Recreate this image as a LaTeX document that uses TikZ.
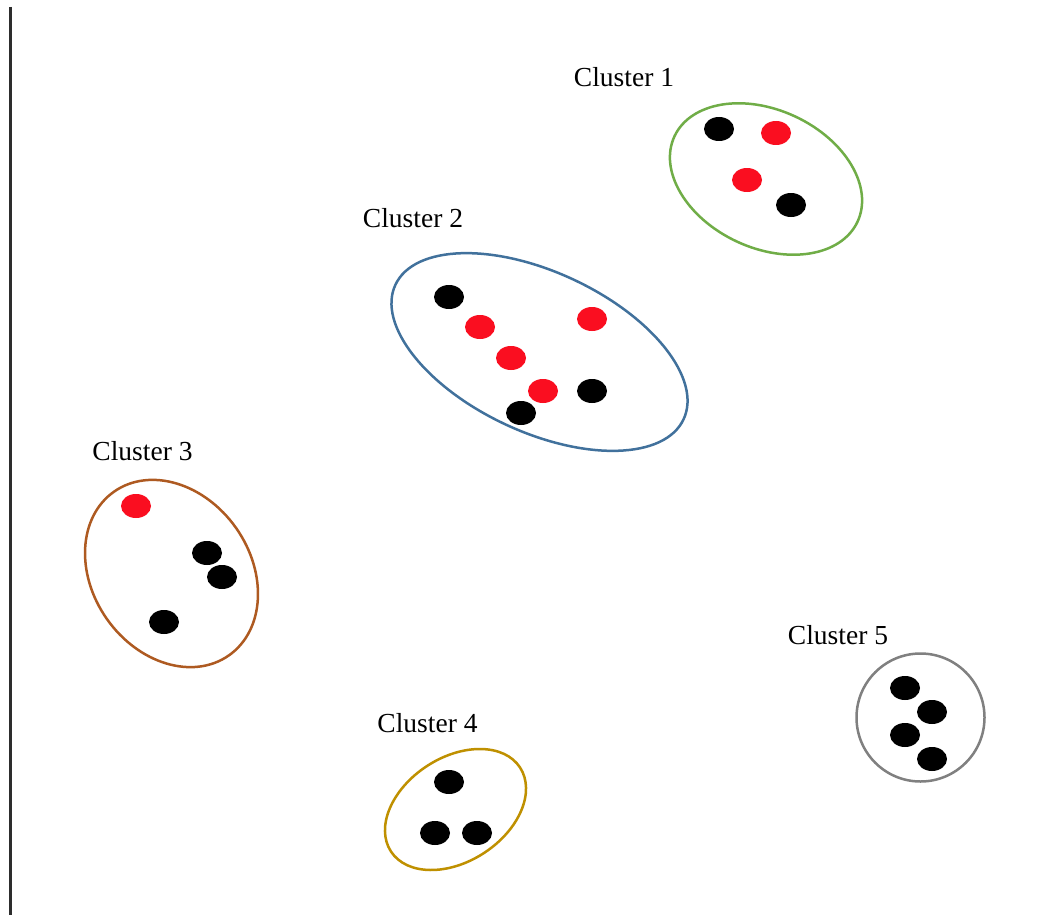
\documentclass[tikz,border=0pt]{standalone}
\usepackage{fontspec}
\setmainfont{Liberation Serif}
\usetikzlibrary{shapes.geometric}
\definecolor{dotred}{RGB}{250,14,32}
\definecolor{cgreen}{RGB}{112,173,71}
\definecolor{cblue}{RGB}{65,113,156}
\definecolor{cbrown}{RGB}{174,90,33}
\definecolor{cgold}{RGB}{191,144,0}
\definecolor{cgray}{RGB}{128,128,128}
\definecolor{bar}{RGB}{45,45,45}
\tikzset{
  pt/.style={ellipse, inner sep=0pt, minimum width=30pt, minimum height=24pt},
  blk/.style={pt, fill=black},
  rdp/.style={pt, fill=dotred},
  hull/.style={line width=2.5pt},
  lbl/.style={anchor=base, font=\fontsize{27.5}{30}\selectfont},
}
\begin{document}
\begin{tikzpicture}[x=1pt,y=-1pt]
\useasboundingbox (0,0) rectangle (1049,915);
\fill[white] (0,0) rectangle (1049,915);
% left axis bar
\coordinate (bartop) at (10.5,7);
\coordinate (barbot) at (10.5,915);
\draw[bar, line width=3pt] (bartop) -- (barbot);

% cluster outlines (y axis points down, so the angles are mirrored)
\draw[hull, cgreen, rotate around={-25:(766,179)}] (766,179) ellipse (101 and 69);
\draw[hull, cblue, rotate around={-25:(539.5,352)}] (539.5,352) ellipse (159 and 80);
\draw[hull, cbrown, rotate around={-55:(171.5,573.5)}] (171.5,573.5) ellipse (100 and 79);
\draw[hull, cgold, rotate around={33:(455.5,809.5)}] (455.5,809.5) ellipse (77 and 52);
\draw[hull, cgray] (920.5,717.5) circle (64);

% labels
\node[lbl] (l1) at (624,87) {Cluster 1};
\node[lbl] (l2) at (413,227) {Cluster 2};
\node[lbl] (l3) at (142.5,460) {Cluster 3};
\node[lbl] (l4) at (427.5,732) {Cluster 4};
\node[lbl] (l5) at (838,644) {Cluster 5};

% cluster 1 points
\node[blk] (a1) at (719,129) {};
\node[rdp] (a2) at (776,133) {};
\node[rdp] (a3) at (747,180) {};
\node[blk] (a4) at (791,205) {};

% cluster 2 points
\node[blk] (b1) at (449,297) {};
\node[rdp] (b2) at (480,327) {};
\node[rdp] (b3) at (511,358) {};
\node[rdp] (b4) at (543,391) {};
\node[blk] (b5) at (521,413) {};
\node[rdp] (b6) at (592,319) {};
\node[blk] (b7) at (592,391) {};

% cluster 3 points
\node[rdp] (c1) at (136,506) {};
\node[blk] (c2) at (207,553) {};
\node[blk] (c3) at (222,577) {};
\node[blk] (c4) at (164,622) {};

% cluster 4 points
\node[blk] (d1) at (449,782) {};
\node[blk] (d2) at (435,833) {};
\node[blk] (d3) at (477,833) {};

% cluster 5 points
\node[blk] (e1) at (905,688) {};
\node[blk] (e2) at (932,712) {};
\node[blk] (e3) at (905,735) {};
\node[blk] (e4) at (932,759) {};
\end{tikzpicture}
\end{document}
